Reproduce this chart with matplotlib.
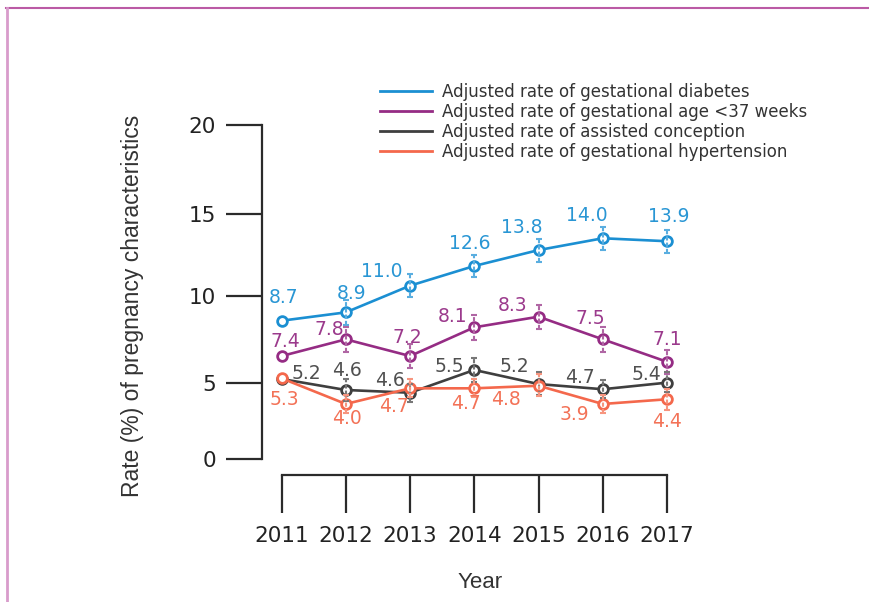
import numpy as np
import matplotlib
matplotlib.use("Agg")
import matplotlib.pyplot as plt
from matplotlib.lines import Line2D

# ---------------- data ----------------
years = [2011, 2012, 2013, 2014, 2015, 2016, 2017]

# plotted positions (as drawn in the picture)
diabetes = [8.58, 9.06, 10.63, 11.83, 12.80, 13.52, 13.34]
gest_age = [6.55, 7.51, 6.55, 8.20, 8.81, 7.51, 6.22]
assisted = [5.23, 4.54, 4.36, 5.75, 4.93, 4.59, 5.02]
hypertension = [5.27, 3.62, 4.65, 4.65, 4.82, 3.62, 3.93]

# printed value labels
diabetes_lbl = ["8.7", "8.9", "11.0", "12.6", "13.8", "14.0", "13.9"]
gest_age_lbl = ["7.4", "7.8", "7.2", "8.1", "8.3", "7.5", "7.1"]
assisted_lbl = ["5.2", "4.6", "4.6", "5.5", "5.2", "4.7", "5.4"]
hypertension_lbl = ["5.3", "4.0", "4.7", "4.7", "4.8", "3.9", "4.4"]

# error half-widths (no bar for the reference year)
diabetes_err = [np.nan, 0.7, 0.7, 0.7, 0.7, 0.7, 0.7]
gest_age_err = [np.nan, 0.7, 0.7, 0.7, 0.7, 0.7, 0.7]
assisted_err = [np.nan, 0.7, 0.6, 0.7, 0.7, 0.6, 0.6]
hypertension_err = [np.nan, 0.6, 0.6, 0.6, 0.7, 0.6, 0.7]

series_names = [
    "Adjusted rate of gestational diabetes",
    "Adjusted rate of gestational age <37 weeks",
    "Adjusted rate of assisted conception",
    "Adjusted rate of gestational hypertension",
]
y_ticks = [0, 5, 10, 15, 20]

# ---------------- layout / style ----------------
line_colors = ["#1b8fd2", "#952c84", "#3f3f3f", "#f4684c"]
text_colors = ["#2996d4", "#9b3a8c", "#505050", "#f37257"]
err_colors = ["#5aaee0", "#b066a4", "#777777", "#f7957f"]

# label offsets in pixels (dx, dy up)
label_offsets = [
    [(2, 23), (6, 19), (-28, 14), (-5, 22), (-17, 23), (-16, 23), (2, 25)],
    [(4, 15), (-17, 10), (-3, 19), (-22, 11), (-26, 11), (-12, 21), (0, 22)],
    [(25, 5), (1, 19), (-20, 12), (-25, 3), (-24, 18), (-23, 12), (-21, 8)],
    [(3, -21), (1, -15), (-16, -18), (-8, -15), (-33, -14), (-28, -11), (0, -22)],
]

# the drawn y axis is not evenly spaced: map value -> pixel height
_vals = np.array([-100.0, 0, 5, 10, 15, 20, 100])
_pix = np.array([-1520.0, 0, 76, 163, 245, 334, 334 + 80 * 17.8])


def fwd(v):
    return np.interp(v, _vals, _pix)


def inv(p):
    return np.interp(p, _pix, _vals)


W, H = 869, 602
fig = plt.figure(figsize=(W / 100, H / 100), dpi=100)
ax = fig.add_axes([262 / W, (H - 459) / H, 438 / W, 334 / H])
ax.set_yscale("function", functions=(fwd, inv))
ax.set_ylim(0, 20)
ax.set_xlim(2010.695, 2017.514)

axis_color = "#2b2b2b"
for s in ["top", "right"]:
    ax.spines[s].set_visible(False)
ax.spines["left"].set_color(axis_color)
ax.spines["left"].set_linewidth(1.6)
ax.spines["bottom"].set_color(axis_color)
ax.spines["bottom"].set_linewidth(1.6)
ax.spines["bottom"].set_position(("outward", 11.5))
ax.spines["bottom"].set_bounds(years[0], years[-1])

ax.set_yticks(y_ticks)
ax.set_yticklabels([str(t) for t in y_ticks])
ax.set_xticks(years)
ax.set_xticklabels([str(y) for y in years])
ax.tick_params(axis="y", direction="out", length=26, width=1.6, color=axis_color,
               pad=7, labelsize=15.5, labelcolor="#222222")
ax.tick_params(axis="x", direction="out", length=27, width=1.6, color=axis_color,
               pad=10, labelsize=15.5, labelcolor="#222222")
ax.minorticks_off()

all_vals = [diabetes, gest_age, assisted, hypertension]
all_lbls = [diabetes_lbl, gest_age_lbl, assisted_lbl, hypertension_lbl]
all_errs = [diabetes_err, gest_age_err, assisted_err, hypertension_err]

x = np.array(years)
for i in range(4):
    v = np.array(all_vals[i])
    e = np.array(all_errs[i])
    ax.plot(x, v, color=line_colors[i], lw=1.9, marker="o", ms=7, mew=2,
            mfc="white", mec=line_colors[i], zorder=3, clip_on=False)
    m = ~np.isnan(e)
    eb = ax.errorbar(x[m], v[m], yerr=e[m], fmt="none", ecolor=err_colors[i],
                     elinewidth=1.5, capsize=2.5, capthick=1.5, zorder=4)
    for lc in eb[2]:
        lc.set_linestyle((0, (2, 1)))
    for j, (xx, vv) in enumerate(zip(x, v)):
        dx, dy = label_offsets[i][j]
        ax.annotate(all_lbls[i][j], (xx, vv), xytext=(dx, dy),
                    textcoords="offset pixels", ha="center", va="center",
                    fontsize=13.5, color=text_colors[i], zorder=5)

handles = [Line2D([0], [0], color=c, lw=2) for c in line_colors]
leg = fig.legend(handles, series_names, loc="upper left",
                 bbox_to_anchor=(380 / W, 1 - 83 / H), frameon=False,
                 fontsize=12, handlelength=3.1, handletextpad=0.6,
                 labelspacing=0.12, borderpad=0, borderaxespad=0)
for t in leg.get_texts():
    t.set_color("#333333")

fig.text(133 / W, 1 - 306 / H, "Rate (%) of pregnancy characteristics",
         rotation=90, ha="center", va="center", fontsize=16.5,
         family=["Liberation Sans", "DejaVu Sans"], color="#333333")
fig.text(480 / W, 1 - 582 / H, "Year", ha="center", va="center",
         fontsize=16, family=["Liberation Sans", "DejaVu Sans"], color="#333333")

# frame decoration
fig.add_artist(Line2D([6 / W, 1], [1 - 8 / H, 1 - 8 / H], transform=fig.transFigure,
                      color="#bb5aa5", lw=1.5))
fig.add_artist(Line2D([6.5 / W, 6.5 / W], [0, 1 - 8 / H], transform=fig.transFigure,
                      color="#d89ccb", lw=2))

fig.savefig("out.png", dpi=100)
